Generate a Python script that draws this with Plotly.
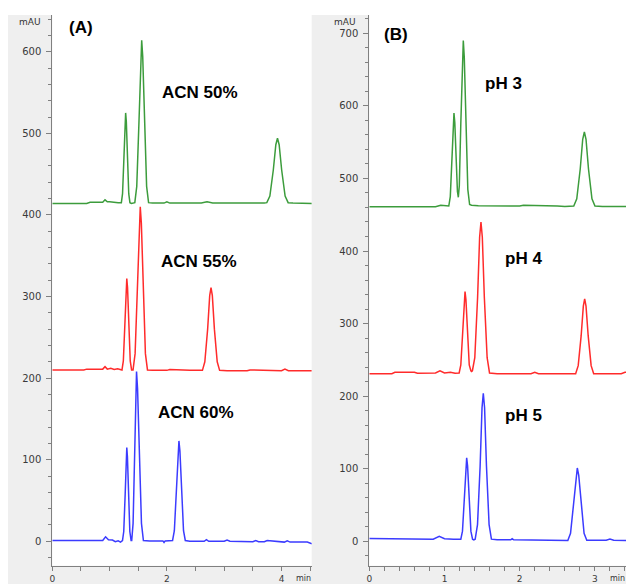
import plotly.graph_objects as go

# ---------------- data ----------------
# Panel A: effect of acetonitrile content (time in min, absorbance in mAU)
A50_TIME = [0.00, 0.60, 0.66, 0.88, 0.92, 0.96, 1.00, 1.10, 1.15,
            1.205, 1.226, 1.250, 1.268, 1.280, 1.292, 1.310, 1.334, 1.355,
            1.380,
            1.440, 1.474, 1.513, 1.542, 1.560, 1.578, 1.607, 1.646, 1.680,
            1.750, 1.950, 2.000, 2.050, 2.600, 2.700, 2.800, 3.700,
            3.744, 3.797, 3.857, 3.901, 3.930, 3.959, 4.003, 4.063, 4.116,
            4.200, 4.530]
A50_MAU = [414, 414, 415.5, 415.5, 418.5, 416, 416, 415, 415,
           415, 426, 470, 514, 525, 514, 470, 426, 415,
           414,
           415, 435, 515, 594, 614, 594, 515, 435, 415,
           414.5, 414.5, 416, 414.5, 414.5, 416, 414.5, 414.5,
           415, 423, 455, 486, 494, 486, 455, 423, 415,
           414.5, 414]

A55_TIME = [0.00, 0.55, 0.60, 0.88, 0.92, 0.96, 1.02, 1.08, 1.14,
            1.216, 1.240, 1.267, 1.287, 1.300, 1.313, 1.333, 1.360, 1.384,
            1.409, 1.445, 1.485, 1.516, 1.535, 1.554, 1.585, 1.625, 1.661,
            1.750, 2.000, 2.050, 2.400,
            2.620, 2.662, 2.711, 2.747, 2.770, 2.793, 2.829, 2.878, 2.920,
            3.050, 3.400, 3.450, 3.800, 4.000, 4.060, 4.120, 4.530]
A55_MAU = [210, 210, 211, 211, 214, 211, 212, 210.5, 211.5,
           210, 221, 266, 311, 322, 311, 266, 221, 210,
           210, 230, 310, 390, 410, 390, 310, 230, 210,
           209.5, 209.5, 210.5, 209.5,
           209.5, 220, 260, 301, 311, 301, 260, 220, 209.5,
           209, 209, 210, 209, 209, 211, 209, 209]

A60_TIME = [0.00, 0.88, 0.93, 0.98, 1.05, 1.10, 1.15, 1.19,
            1.225, 1.247, 1.272, 1.289, 1.300, 1.311, 1.328, 1.353, 1.375,
            1.386, 1.410, 1.437, 1.457, 1.470, 1.488, 1.517, 1.556, 1.590,
            1.700, 1.930, 1.950, 1.970,
            2.099, 2.130, 2.166, 2.193, 2.210, 2.227, 2.254, 2.290, 2.321,
            2.400, 2.650, 2.690, 2.730, 3.000, 3.050, 3.100, 3.500, 3.550,
            3.600, 3.700, 3.750, 4.050, 4.100, 4.150, 4.450, 4.530]
A60_MAU = [1, 1, 5.5, 2, 1.5, -0.5, 0.5, -1,
           1, 12, 58, 104, 115, 104, 58, 12, 1,
           1, 22, 104, 187, 208, 187, 104, 22, 1,
           0.5, 0.5, -1.5, 0.5,
           1, 13, 62, 111, 123, 111, 62, 13, 1,
           0, 0, 2, 0, 0, 1.5, 0, -0.5, 1,
           -0.5, -0.5, 1, -1, 0.5, -1, -1, -3]

# Panel B: effect of pH
B3_TIME = [0.00, 0.30, 0.35, 0.88, 0.95, 1.00, 1.040,
           1.057, 1.077, 1.099, 1.115, 1.126, 1.137, 1.153, 1.172, 1.184,
           1.197, 1.217, 1.237, 1.250, 1.263, 1.283, 1.310, 1.334, 1.360,
           1.450, 1.700, 1.750, 2.000, 2.050, 2.450, 2.500, 2.600,
           2.719, 2.759, 2.805, 2.838, 2.860, 2.882, 2.915, 2.961, 3.001,
           3.100, 3.520]
B3_MAU = [461, 461, 461, 461, 463, 463, 463,
          462, 475, 526, 577, 590, 577, 527, 482, 474,
          490, 576, 667, 690, 667, 576, 485, 464, 463,
          462.5, 462.5, 461.5, 462, 463, 463, 462, 461.5,
          462, 472, 513, 554, 564, 554, 513, 472, 462,
          461.5, 461.5]

B4_TIME = [0.00, 0.30, 0.34, 0.60, 0.64, 0.88, 0.94, 1.00, 1.08, 1.14,
           1.195, 1.217, 1.242, 1.261, 1.273, 1.285, 1.304, 1.329, 1.351,
           1.360,
           1.371, 1.403, 1.440, 1.467, 1.485, 1.503, 1.530, 1.567, 1.599,
           1.700, 2.150, 2.200, 2.250, 2.650,
           2.744, 2.778, 2.817, 2.846, 2.864, 2.882, 2.911, 2.950, 2.984,
           3.100, 3.350, 3.400, 3.520]
B4_MAU = [231, 231, 233, 233, 231.5, 232, 235, 232, 233, 231.5,
          232, 243, 288, 333, 344, 333, 288, 243, 235,
          234,
          235, 253, 336, 419, 440, 419, 336, 253, 232,
          231, 231, 233, 231, 231,
          231, 242, 283, 324, 334, 324, 283, 242, 231,
          231, 231, 233, 233]

B5_TIME = [0.00, 0.60, 0.63, 0.85, 0.93, 1.00, 1.12, 1.17,
           1.217, 1.239, 1.264, 1.283, 1.295, 1.307, 1.326, 1.351, 1.373,
           1.390,
           1.408, 1.439, 1.474, 1.499, 1.516, 1.533, 1.558, 1.593, 1.624,
           1.700, 1.880, 1.900, 1.920, 2.150, 2.450, 2.550,
           2.640, 2.676, 2.716, 2.747, 2.766, 2.785, 2.816, 2.856, 2.892,
           3.000, 3.150, 3.200, 3.250, 3.520]
B5_MAU = [4, 4, 3, 3, 7, 3.5, 3, 3,
          3, 14, 59, 104, 115, 104, 59, 14, 3,
          2,
          3, 23, 104, 184, 204, 184, 104, 23, 3,
          2, 2, 3.5, 2, 2, 1, 1,
          1, 11, 51, 91, 101, 91, 51, 11, 1.5,
          1.5, 1.5, 3, 1.5, 1]

A_LABELS = ["ACN 50%", "ACN 55%", "ACN 60%"]
B_LABELS = ["pH 3", "pH 4", "pH 5"]
PANEL_TAGS = ["(A)", "(B)"]
A_XTICKS = [0, 2, 4]
B_XTICKS = [0, 1, 2, 3]

GREEN, RED, BLUE = "#3c9c3c", "#ff2b2b", "#3b3bff"

# the page body has an 8 px margin, so the figure is drawn 8 px in from the top-left
OFF = 8
W, H = 634 - OFF, 584 - OFF
# pixel geometry of the two plot areas (figure coordinates)
AX_L, AX_R = 52.3 - OFF, 311.7 - OFF
BX_L, BX_R = 369.3 - OFF, 634.0 - OFF
Y_TOP, Y_BOT = 15.0 - OFF, 565.7 - OFF

fig = go.Figure()
for t, v, c in [(A50_TIME, A50_MAU, GREEN), (A55_TIME, A55_MAU, RED), (A60_TIME, A60_MAU, BLUE)]:
    assert len(t) == len(v)
    fig.add_trace(go.Scatter(x=t, y=v, mode="lines", line=dict(color=c, width=1.5),
                             xaxis="x", yaxis="y", showlegend=False, hoverinfo="skip"))
for t, v, c in [(B3_TIME, B3_MAU, GREEN), (B4_TIME, B4_MAU, RED), (B5_TIME, B5_MAU, BLUE)]:
    assert len(t) == len(v)
    fig.add_trace(go.Scatter(x=t, y=v, mode="lines", line=dict(color=c, width=1.5),
                             xaxis="x2", yaxis="y2", showlegend=False, hoverinfo="skip"))

ytickfont = dict(family="DejaVu Sans", size=10, color="#3a3a3a")
xtickfont = dict(family="DejaVu Sans", size=9, color="#3a3a3a")
axcol = "#808080"
ydom = [(H - Y_BOT) / H, (H - Y_TOP) / H]

common_x = dict(showline=True, linecolor=axcol, linewidth=1, ticks="outside", ticklen=4,
                tickcolor=axcol, showgrid=False, zeroline=False, tickfont=xtickfont,
                ticklabelstandoff=0, automargin=False, fixedrange=True)
common_y = dict(showline=True, linecolor=axcol, linewidth=1, ticks="outside", ticklen=5,
                tickcolor=axcol, showgrid=False, zeroline=False, tickfont=ytickfont,
                ticklabelstandoff=3, automargin=False, dtick=100, tick0=0, fixedrange=True)

fig.update_layout(
    width=W, height=H, margin=dict(l=0, r=0, t=0, b=0, autoexpand=False),
    paper_bgcolor="white", plot_bgcolor="white",
    xaxis=dict(domain=[AX_L / W, AX_R / W], range=[0, 4.527], anchor="y",
               tickvals=A_XTICKS,
               minor=dict(dtick=0.5, tick0=0, ticks="outside", ticklen=4, tickcolor=axcol),
               **common_x),
    yaxis=dict(domain=ydom, range=[-29.9, 645], anchor="x",
               minor=dict(dtick=20, tick0=0, ticks="outside", ticklen=3, tickcolor=axcol),
               **common_y),
    xaxis2=dict(domain=[BX_L / W, BX_R / W], range=[0, 3.52], anchor="y2",
                tickvals=B_XTICKS,
                minor=dict(dtick=0.2, tick0=0, ticks="outside", ticklen=4, tickcolor=axcol),
                **common_x),
    yaxis2=dict(domain=ydom, range=[-33.6, 725.2], anchor="x2",
                minor=dict(dtick=20, tick0=0, ticks="outside", ticklen=3, tickcolor=axcol),
                **common_y),
)

gray = "#efefef"
fig.add_shape(type="rect", xref="paper", yref="paper", x0=0, x1=AX_L / W,
              y0=0, y1=(H - Y_TOP) / H, fillcolor=gray, line_width=0, layer="below")
fig.add_shape(type="rect", xref="paper", yref="paper", x0=AX_R / W, x1=BX_L / W,
              y0=0, y1=(H - Y_TOP) / H, fillcolor=gray, line_width=0, layer="below")
fig.add_shape(type="rect", xref="paper", yref="paper", x0=0, x1=1,
              y0=0, y1=(H - Y_BOT) / H, fillcolor=gray, line_width=0, layer="below")

bold = dict(family="Liberation Sans, Arial", size=17, color="black")
ann = []
# sample labels (data coordinates of each panel)
for txt, (x, y) in zip(A_LABELS, [(2.578, 550.5), (2.56, 343.0), (2.508, 158.0)]):
    ann.append(dict(text="<b>%s</b>" % txt, x=x, y=y, xref="x", yref="y",
                    showarrow=False, font=bold))
for txt, (x, y) in zip(B_LABELS, [(1.778, 631.0), (2.044, 390.0), (2.057, 173.5)]):
    ann.append(dict(text="<b>%s</b>" % txt, x=x, y=y, xref="x2", yref="y2",
                    showarrow=False, font=bold))
ann.append(dict(text="<b>%s</b>" % PANEL_TAGS[0], x=0.501, y=630.0, xref="x", yref="y",
                showarrow=False, font=bold))
ann.append(dict(text="<b>%s</b>" % PANEL_TAGS[1], x=0.356, y=698.0, xref="x2", yref="y2",
                showarrow=False, font=bold))
small = dict(family="DejaVu Sans", size=9, color="#333333")
for xr in [43 - OFF, 358 - OFF]:
    ann.append(dict(text="mAU", x=xr / W, y=(H - (21.5 - OFF)) / H, xref="paper", yref="paper",
                    xanchor="right", yanchor="middle", showarrow=False, font=small))
tiny = dict(family="DejaVu Sans", size=8, color="#333333")
ymin = (H - (578.5 - OFF)) / H
ann.append(dict(text="min", x=4.38, y=ymin, xref="x", yref="paper",
                xanchor="center", yanchor="middle", showarrow=False, font=tiny))
ann.append(dict(text="min", x=3.30, y=ymin, xref="x2", yref="paper",
                xanchor="center", yanchor="middle", showarrow=False, font=tiny))
fig.update_layout(annotations=ann)

fig.write_html("out.html")
